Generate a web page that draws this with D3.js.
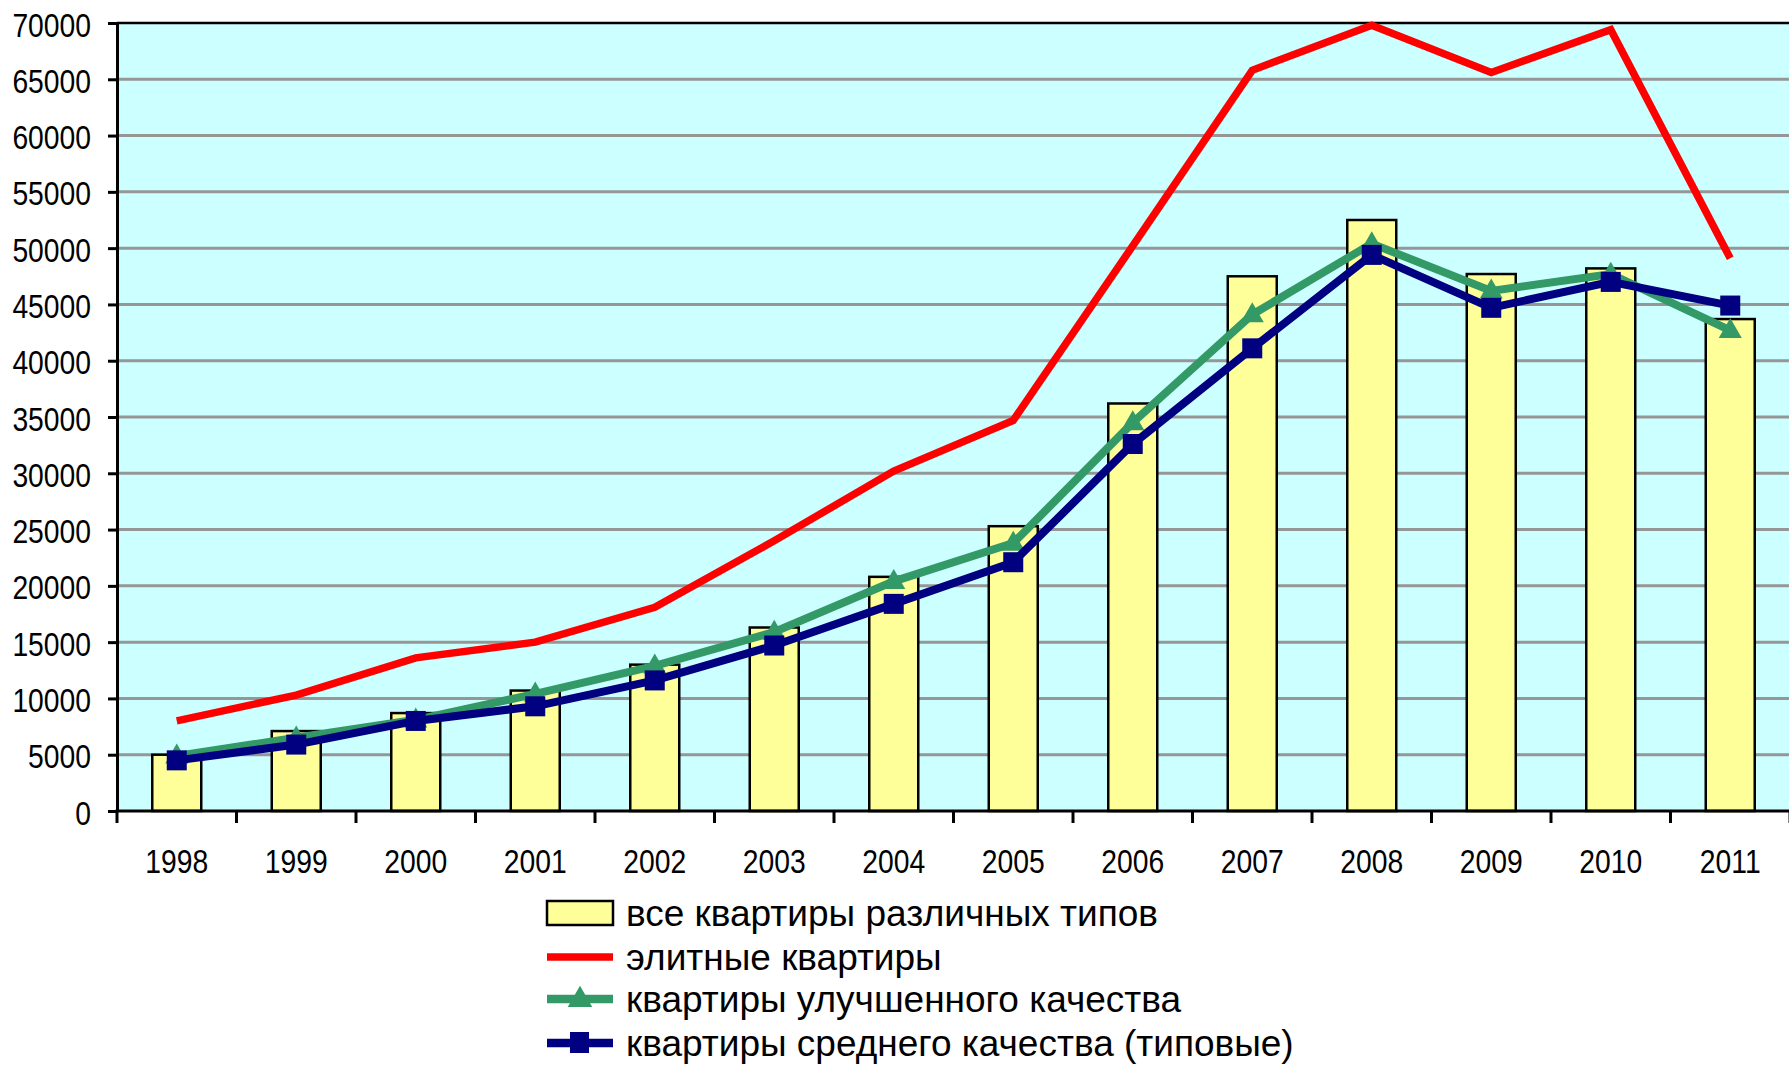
<!DOCTYPE html>
<html>
<head>
<meta charset="utf-8">
<script src="https://cdn.jsdelivr.net/npm/d3@7"></script>
<style>
  html, body { margin: 0; padding: 0; background: #ffffff; }
  svg { display: block; }
  text { font-family: "Liberation Sans", Arial, sans-serif; fill: #000; }
</style>
</head>
<body>
<svg id="chart" width="1789" height="1069"></svg>
<script>
// ---- data ----
const years = ["1998","1999","2000","2001","2002","2003","2004","2005","2006","2007","2008","2009","2010","2011"];
const allFlats      = [5000, 7100, 8700, 10700, 13000, 16300, 20800, 25300, 36200, 47500, 52500, 47700, 48200, 43700];
const eliteFlats    = [8000, 10300, 13600, 15000, 18100, 24000, 30200, 34700, 50200, 65800, 69800, 65600, 69400, 49100];
const improvedFlats = [4900, 6500, 8100, 10400, 12900, 15900, 20400, 23800, 34500, 44100, 50400, 46200, 47700, 42700];
const standardFlats = [4500, 5900, 8000, 9300, 11600, 14700, 18400, 22100, 32600, 41100, 49400, 44700, 47000, 44900];
const yTicks = [0, 5000, 10000, 15000, 20000, 25000, 30000, 35000, 40000, 45000, 50000, 55000, 60000, 65000, 70000];
const legendLabels = [
  "все квартиры различных типов",
  "элитные квартиры",
  "квартиры улучшенного качества",
  "квартиры среднего качества (типовые)"
];

(function () {
// ---- layout ----
const svg = d3.select("#chart");
const pL = 117, pR = 1790, pT = 23, pB = 811;

const x = d3.scaleBand().domain(years).range([pL, pR]).paddingInner(0.59).paddingOuter(0.295);
const y = d3.scaleLinear().domain([0, 70000]).range([pB, pT]);
const cx = d => x(d) + x.bandwidth() / 2;

// plot background
svg.append("rect").attr("x", pL).attr("y", pT).attr("width", pR - pL).attr("height", pB - pT)
  .attr("fill", "#CCFFFF");

// gridlines
svg.append("g").selectAll("line").data(yTicks.filter(t => t > 0 && t < 70000)).join("line")
  .attr("x1", pL).attr("x2", pR)
  .attr("y1", d => y(d)).attr("y2", d => y(d))
  .attr("stroke", "#969696").attr("stroke-width", 3);

// top border
svg.append("line").attr("x1", pL).attr("x2", pR).attr("y1", y(70000)).attr("y2", y(70000))
  .attr("stroke", "#000").attr("stroke-width", 2.5);

// bars
svg.append("g").selectAll("rect").data(years).join("rect")
  .attr("x", d => x(d)).attr("width", x.bandwidth())
  .attr("y", (d, i) => y(allFlats[i]))
  .attr("height", (d, i) => y(0) - y(allFlats[i]))
  .attr("fill", "#FFFF99").attr("stroke", "#000").attr("stroke-width", 2.5);

// y axis
const yAxis = svg.append("g").attr("transform", `translate(${pL},0)`)
  .call(d3.axisLeft(y).tickValues(yTicks).tickSize(9).tickSizeOuter(0).tickFormat(d3.format("d")));
yAxis.select(".domain").attr("stroke", "#000").attr("stroke-width", 3);
yAxis.selectAll(".tick line").attr("stroke", "#000").attr("stroke-width", 3);
yAxis.selectAll(".tick text")
  .attr("x", null).attr("dy", "0.4em")
  .attr("transform", "translate(-26,0) scale(0.87,1)")
  .style("font-size", "32.5px").style("font-family", "'Liberation Sans', Arial, sans-serif").attr("fill", "#000");

// x axis
const step = x.step();
const boundaries = years.map(d => x(d) - step * x.paddingInner() / 2).concat([pR]);
svg.append("line").attr("x1", pL - 1.5).attr("x2", pR).attr("y1", pB).attr("y2", pB)
  .attr("stroke", "#000").attr("stroke-width", 3);
svg.append("g").selectAll("line").data(boundaries).join("line")
  .attr("x1", d => d).attr("x2", d => d).attr("y1", pB).attr("y2", pB + 12)
  .attr("stroke", "#000").attr("stroke-width", 3);
svg.append("g").selectAll("text").data(years).join("text")
  .attr("transform", d => `translate(${cx(d)},${pB + 62}) scale(0.87,1)`)
  .attr("text-anchor", "middle").style("font-size", "32.5px").text(d => d);

// lines
const lineGen = vals => d3.line().x((d, i) => cx(years[i])).y(d => y(d))(vals);

svg.append("path").attr("d", lineGen(eliteFlats)).attr("fill", "none")
  .attr("stroke", "#FF0000").attr("stroke-width", 7.5).attr("stroke-linejoin", "miter");

svg.append("path").attr("d", lineGen(improvedFlats)).attr("fill", "none")
  .attr("stroke", "#339966").attr("stroke-width", 8).attr("stroke-linejoin", "miter");
const tri = d3.symbol().type(d3.symbolTriangle).size(230);
svg.append("g").selectAll("path").data(improvedFlats).join("path")
  .attr("d", tri).attr("transform", (d, i) => `translate(${cx(years[i])},${y(d) + 1})`)
  .attr("fill", "#339966");

svg.append("path").attr("d", lineGen(standardFlats)).attr("fill", "none")
  .attr("stroke", "#000080").attr("stroke-width", 8).attr("stroke-linejoin", "miter");
svg.append("g").selectAll("rect").data(standardFlats).join("rect")
  .attr("x", (d, i) => cx(years[i]) - 10).attr("y", d => y(d) - 10)
  .attr("width", 20).attr("height", 20).attr("fill", "#000080");

// legend
const lg = svg.append("g");
const lx0 = 547, lx1 = 613, lmid = 580, textX = 626;
const rowY = [913, 957, 999, 1043];
lg.append("rect").attr("x", lx0).attr("y", rowY[0] - 12).attr("width", lx1 - lx0).attr("height", 24)
  .attr("fill", "#FFFF99").attr("stroke", "#000").attr("stroke-width", 2.5);
lg.append("line").attr("x1", lx0).attr("x2", lx1).attr("y1", rowY[1]).attr("y2", rowY[1])
  .attr("stroke", "#FF0000").attr("stroke-width", 7.5);
lg.append("line").attr("x1", lx0).attr("x2", lx1).attr("y1", rowY[2]).attr("y2", rowY[2])
  .attr("stroke", "#339966").attr("stroke-width", 8.5);
lg.append("path").attr("d", d3.symbol().type(d3.symbolTriangle).size(260))
  .attr("transform", `translate(${lmid},${rowY[2] + 1})`).attr("fill", "#339966");
lg.append("line").attr("x1", lx0).attr("x2", lx1).attr("y1", rowY[3]).attr("y2", rowY[3])
  .attr("stroke", "#000080").attr("stroke-width", 8.5);
lg.append("rect").attr("x", lmid - 10).attr("y", rowY[3] - 11).attr("width", 19).attr("height", 21)
  .attr("fill", "#000080");
lg.selectAll("text").data(legendLabels).join("text")
  .attr("x", textX).attr("y", (d, i) => rowY[i] + 13)
  .style("font-size", "37px").text(d => d);
})();
</script>
</body>
</html>
